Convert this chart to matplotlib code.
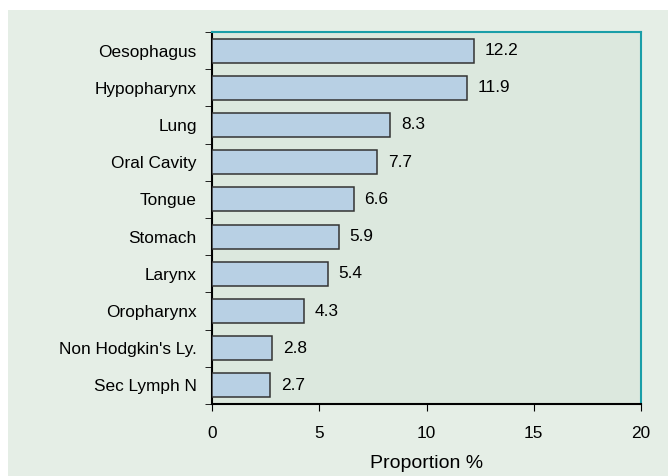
import matplotlib
matplotlib.use("Agg")
import matplotlib.pyplot as plt
from matplotlib.patches import Rectangle

categories = ["Oesophagus", "Hypopharynx", "Lung", "Oral Cavity", "Tongue",
              "Stomach", "Larynx", "Oropharynx", "Non Hodgkin's Ly.", "Sec Lymph N"]
values = [12.2, 11.9, 8.3, 7.7, 6.6, 5.9, 5.4, 4.3, 2.8, 2.7]
value_labels = ["12.2", "11.9", "8.3", "7.7", "6.6", "5.9", "5.4", "4.3", "2.8", "2.7"]
xticks = [0, 5, 10, 15, 20]

plt.rcParams['font.family'] = ['Liberation Sans', 'DejaVu Sans']

W, H = 668, 476
fig = plt.figure(figsize=(W/100, H/100), dpi=100)
fig.patch.set_facecolor("white")
fig.patches.append(Rectangle((8/W, 0), 1 - 8/W, 1 - 10/H, transform=fig.transFigure,
                             facecolor="#e5eee6", edgecolor="none", zorder=-10))

ax = fig.add_axes([212/W, 1 - 404/H, (641-212)/W, (404-32)/H])
ax.set_zorder(1)
ax.set_facecolor("#dce8de")

fs = 12.4
n = len(categories)
ypos = list(range(n))[::-1]
ax.barh(ypos, values, height=0.645, color="#b8d0e4", edgecolor="#333333", linewidth=1.1, zorder=3)
for y, v, lab in zip(ypos, values, value_labels):
    ax.text(v + 0.5, y, lab, va="center", ha="left", fontsize=fs, color="black")

ax.set_xlim(0, 20)
ax.set_ylim(-0.5, n - 0.5)
ax.set_xticks(xticks)
ax.set_xticklabels([str(t) for t in xticks], fontsize=fs)
ax.set_yticks(ypos)
ax.set_yticklabels(categories, fontsize=fs)
ax.tick_params(axis="y", length=0, pad=11)
ax.set_yticks([i - 0.5 for i in range(n + 1)], minor=True)
ax.tick_params(axis="y", which="minor", length=5, direction="out", color="black")
ax.tick_params(axis="x", length=5, direction="out", pad=11, color="black")

ax.spines["left"].set_color("black")
ax.spines["bottom"].set_color("black")
ax.spines["top"].set_color("#1a9ea8")
ax.spines["right"].set_color("#1a9ea8")
for s in ax.spines.values():
    s.set_linewidth(1.5)

ax.set_xlabel("Proportion %", fontsize=14, labelpad=10)

fig.savefig("out.png", dpi=100)
